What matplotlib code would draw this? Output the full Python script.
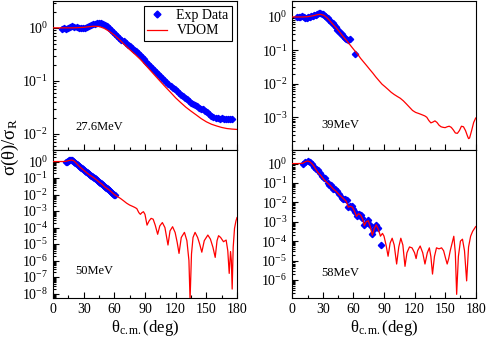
import matplotlib
matplotlib.use("Agg")
import matplotlib.pyplot as plt
from matplotlib.ticker import LogLocator, NullFormatter, MultipleLocator
from matplotlib.lines import Line2D

plt.rcParams['font.family'] = 'Liberation Serif'
plt.rcParams['mathtext.fontset'] = 'custom'
plt.rcParams['mathtext.rm'] = 'Liberation Serif'
plt.rcParams['mathtext.it'] = 'Liberation Serif:italic'
plt.rcParams['axes.unicode_minus'] = False

# ---- 27.6 MeV ----
exp27_ang = [9, 11, 13, 15, 17, 19, 21, 23, 25, 27, 29, 31, 33, 35, 37, 39, 41, 43, 45, 47,
             49, 51, 53, 55, 57, 59, 61, 63, 65, 67, 69, 71, 73, 75, 77, 79, 81, 83, 85, 87,
             89, 91, 93, 95, 97, 99, 101, 103, 105, 107, 109, 111, 113, 115, 117, 119, 121, 123, 125, 127,
             129, 131, 133, 135, 137, 139, 141, 143, 145, 147, 149, 151, 153, 155, 157, 159, 161, 163, 165, 167,
             169, 171, 173, 175]
exp27_val = [0.97, 0.99, 0.97, 0.98, 1.03, 1.06, 1.05, 1.02, 1.0, 0.99, 1.01, 1.0, 1.03, 1.07, 1.12, 1.16, 1.19, 1.21, 1.22, 1.21,
             1.18, 1.13, 1.06, 0.99, 0.92, 0.84, 0.77, 0.71, 0.65, 0.6, 0.56, 0.52, 0.48, 0.45, 0.42, 0.39, 0.36, 0.33, 0.305, 0.28,
             0.255, 0.232, 0.21, 0.19, 0.175, 0.16, 0.147, 0.135, 0.124, 0.113, 0.104, 0.096, 0.088, 0.081, 0.075, 0.069, 0.064, 0.059, 0.055, 0.051,
             0.048, 0.045, 0.042, 0.039, 0.037, 0.035, 0.033, 0.031, 0.03, 0.029, 0.027, 0.026, 0.024, 0.022, 0.021, 0.02, 0.0198, 0.0196, 0.02, 0.0195,
             0.0193, 0.0195, 0.0192, 0.019]
th27_ang = [0, 10, 20, 30, 35, 40, 45, 50, 55, 60, 65, 70, 75, 80, 85, 90, 95, 100, 105, 110,
            115, 120, 125, 130, 135, 140, 145, 150, 155, 160, 165, 170, 175, 180]
th27_val = [1.0, 1.0, 1.0, 1.02, 1.05, 1.07, 1.06, 0.98, 0.86, 0.73, 0.6, 0.48, 0.39, 0.32, 0.26, 0.205, 0.16, 0.125, 0.098, 0.077,
            0.061, 0.048, 0.039, 0.032, 0.027, 0.023, 0.0195, 0.017, 0.0153, 0.0142, 0.0133, 0.0127, 0.0124, 0.0122]

# ---- 39 MeV ----
exp39_ang = [5, 6.5, 8, 9.5, 11, 12.5, 14, 15.5, 17, 18.5, 20, 21.5, 23, 24.5, 26, 27.5, 29, 30.5, 32, 33.5,
             35, 36.5, 38, 39.5, 41, 42.5, 44, 45.5, 47, 48.5, 50, 51.5, 53, 54.5, 56.5, 61.5]
exp39_val = [1.0, 1.02, 0.98, 1.04, 1.0, 0.95, 0.93, 0.97, 1.0, 1.05, 1.08, 1.12, 1.18, 1.24, 1.28, 1.3, 1.25, 1.2, 1.1, 1.0,
             0.9, 0.8, 0.72, 0.65, 0.57, 0.5, 0.42, 0.38, 0.33, 0.3, 0.27, 0.24, 0.22, 0.21, 0.215, 0.078]
th39_ang = [0, 5, 10, 15, 20, 25, 28, 31, 34, 37, 40, 43, 46, 49, 52, 55, 58, 61, 64, 67,
            70, 73, 76, 79, 82, 85, 88, 91, 94, 97, 100, 103, 106, 109, 112, 115, 118, 121, 124, 127,
            130, 132, 134, 136, 138, 140, 142, 144, 146, 148, 150, 152, 154, 156, 158, 160, 162, 164, 166, 168,
            170, 172, 173, 174, 176, 178, 180]
th39_val = [1.0, 1.0, 1.0, 1.02, 1.08, 1.18, 1.2, 1.12, 0.95, 0.76, 0.6, 0.48, 0.37, 0.28, 0.22, 0.17, 0.13, 0.1, 0.078, 0.058,
            0.045, 0.035, 0.027, 0.021, 0.016, 0.0125, 0.0098, 0.0082, 0.0068, 0.0056, 0.0048, 0.0042, 0.0037, 0.0031, 0.0025, 0.002, 0.0016, 0.0014, 0.0013, 0.0012,
            0.0011, 0.001, 0.0008, 0.00068, 0.00072, 0.00078, 0.0007, 0.00058, 0.00052, 0.0005, 0.00049, 0.00052, 0.00054, 0.0005, 0.00042, 0.00034, 0.00033, 0.0004, 0.00054, 0.00052,
            0.0004, 0.00027, 0.00023, 0.00024, 0.0004, 0.0007, 0.00095]

# ---- 50 MeV ----
exp50_ang = [13, 14, 15, 16, 17, 18, 19, 20, 21, 22, 23, 24, 25, 26, 27, 28, 29, 30, 31, 32,
             33, 34, 35, 36, 37, 38, 39, 40, 41, 42, 43, 44, 45, 46, 47, 48, 49, 50, 51, 52,
             53, 54, 55, 56, 57, 58, 59, 60, 61]
exp50_val = [0.95, 1.0, 1.12, 1.2, 1.26, 1.26, 1.23, 1.15, 1.0, 0.87, 0.76, 0.65, 0.56, 0.49, 0.43, 0.38, 0.34, 0.3, 0.26, 0.24,
             0.22, 0.2, 0.174, 0.151, 0.135, 0.126, 0.117, 0.107, 0.095, 0.083, 0.072, 0.063, 0.058, 0.052, 0.048, 0.043, 0.037, 0.032, 0.0275, 0.025,
             0.0234, 0.0219, 0.02, 0.0174, 0.0148, 0.0126, 0.011, 0.01, 0.0091]
th50_ang = [0, 5, 10, 13, 16, 18, 20, 22, 24, 27, 30, 33, 36, 39, 42, 45, 48, 51, 54, 57,
            60, 63, 66, 69, 72, 75, 78, 80, 82, 84, 85.5, 87, 88.5, 90, 92, 94, 96, 98, 100, 102.4,
            104.5, 107, 109.5, 112.5, 114.5, 117, 119.5, 121.5, 123.3, 125.5, 128.6, 131, 133, 134.1, 135.5, 137, 139, 141.5, 143.5, 145.6,
            148, 151.5, 154, 156.5, 158.7, 160.5, 162, 164, 166.8, 169.4, 171, 172.4, 173.7, 174.5, 175.3, 176.3, 177.6, 179, 180]
th50_val = [1.0, 1.0, 1.0, 1.05, 1.17, 1.23, 1.15, 0.89, 0.65, 0.43, 0.3, 0.21, 0.15, 0.115, 0.083, 0.058, 0.042, 0.028, 0.021, 0.0148,
            0.01, 0.0076, 0.0058, 0.0042, 0.003, 0.0023, 0.0019, 0.00166, 0.0014, 0.0008, 0.00063, 0.0008, 0.00091, 0.00063, 0.00014, 0.00025, 0.00036, 0.00032, 0.00014, 3.9e-5,
            1.26e-4, 2.0e-4, 1.0e-4, 8.7e-6, 6.3e-5, 1.12e-4, 5.0e-5, 1.26e-5, 2.7e-6, 2.5e-5, 5.1e-5, 1.6e-5, 1.0e-6, 4.0e-9, 2.5e-6, 2.5e-5, 5.1e-5, 2.5e-5, 1.0e-5, 3.2e-6,
            1.6e-5, 3.5e-5, 2.0e-5, 6.3e-6, 1.55e-6, 1.6e-5, 3.2e-5, 2.5e-5, 1.38e-5, 1.74e-5, 4.0e-6, 1.66e-7, 3.5e-6, 1.0e-6, 1.86e-8, 6.3e-6, 8.9e-5, 2.5e-4, 4.0e-4]

# ---- 58 MeV ----
exp58_ang = [10.8, 12.5, 15.1, 17.4, 19.7, 21.6, 23.3, 24.9, 27.2, 28.8, 30.8, 32.1, 34.7, 36.0, 38.0, 40.3, 41.9, 43.5, 45.8, 48.4,
             50.1, 51.7, 53.4, 55.0, 56.6, 58.3, 59.9, 61.5, 63.2, 65.5, 67.4, 68.7, 70.7, 72.3, 73.9, 76.3, 78.5, 80.5, 82.1, 84.4,
             87.0]
exp58_val = [0.93, 1.15, 1.35, 1.15, 0.91, 0.66, 0.51, 0.46, 0.31, 0.23, 0.19, 0.17, 0.1, 0.083, 0.076, 0.051, 0.046, 0.039, 0.028, 0.0174,
             0.0155, 0.0155, 0.0129, 0.0055, 0.0063, 0.0065, 0.0047, 0.0032, 0.0019, 0.0026, 0.0021, 0.00155, 0.00065, 0.0009, 0.00117, 0.00065, 0.00024, 0.00043, 0.00065, 0.00047,
             6.6e-5]
th58_ang = [0, 5, 10, 13, 15, 17, 20, 22, 25, 28, 31, 34, 37, 40, 43, 46, 49, 51, 53, 55,
            57, 59, 61, 63, 65, 67, 69, 70.7, 72.5, 74.5, 76.5, 78.5, 80.5, 82.3, 84.5, 86.5, 88.5, 90, 92, 94,
            96, 98, 100, 102.4, 104.5, 106.5, 108.5, 110.6, 112.5, 115, 117.5, 120, 121.5, 123, 125.5, 128, 130.2, 132.5, 134.5, 136,
            137.6, 139.5, 141.5, 144, 146.5, 148.5, 150.5, 152, 153.5, 155, 158.5, 160, 161.3, 163, 165, 167, 169, 171.1, 173, 175,
            177, 180]
th58_val = [1.0, 1.0, 1.02, 1.26, 1.35, 1.26, 0.89, 0.63, 0.35, 0.24, 0.15, 0.105, 0.076, 0.05, 0.037, 0.025, 0.0178, 0.0141, 0.0112, 0.0056,
            0.0063, 0.0056, 0.0035, 0.0019, 0.0026, 0.0022, 0.0014, 0.00063, 0.001, 0.00112, 0.00056, 0.0002, 0.00045, 0.0007, 0.0004, 0.00018, 0.00025, 0.00018, 6.3e-5, 1.66e-5,
            7.9e-5, 1.41e-4, 6.3e-5, 6.6e-6, 5.0e-5, 1.41e-4, 6.3e-5, 5.0e-6, 2.5e-5, 5.0e-5, 4.5e-5, 2.5e-5, 1.26e-5, 3.2e-5, 5.6e-5, 2.5e-5, 6.6e-6, 2.5e-5, 4.5e-5, 1.6e-5,
            2.0e-6, 1.6e-5, 4.5e-5, 4.0e-5, 4.5e-5, 3.2e-5, 1.26e-5, 6.6e-6, 1.26e-5, 3.2e-5, 1.78e-4, 2.5e-5, 1.8e-7, 1.6e-5, 1.0e-4, 1.26e-4, 3.2e-5, 8.9e-7, 5.0e-5, 1.78e-4,
            3.2e-4, 5.6e-4]

labels = ['27.6MeV', '39MeV', '50MeV', '58MeV']
ylims = [(5e-3, 3.2), (1.05e-4, 3.0), (5e-9, 5.0), (1.1e-7, 5.0)]
label_pos = [(0.12, 0.155), (0.16, 0.168), (0.12, 0.183), (0.16, 0.172)]

fig = plt.figure(figsize=(4.88, 3.38), dpi=100)
rects = [(0.1086, 0.5562, 0.377, 0.4408), (0.599, 0.5562, 0.3758, 0.4408),
         (0.1086, 0.1169, 0.377, 0.4393), (0.599, 0.1169, 0.3758, 0.4393)]
exps = [(exp27_ang, exp27_val), (exp39_ang, exp39_val), (exp50_ang, exp50_val), (exp58_ang, exp58_val)]
ths = [(th27_ang, th27_val), (th39_ang, th39_val), (th50_ang, th50_val), (th58_ang, th58_val)]

for i in range(4):
    ax = fig.add_axes(rects[i])
    ax.plot(exps[i][0], exps[i][1], ls='none', marker='D', ms=3.2, color='#0000ff', zorder=2)
    ax.plot(ths[i][0], ths[i][1], color='#ff0000', lw=0.9, zorder=3)
    ax.set_yscale('log')
    ax.set_xlim(0, 180)
    ax.set_ylim(*ylims[i])
    ax.xaxis.set_major_locator(MultipleLocator(30))
    ax.xaxis.set_minor_locator(MultipleLocator(15))
    ax.yaxis.set_major_locator(LogLocator(base=10, numticks=30))
    ax.yaxis.set_minor_locator(LogLocator(base=10, subs=(2, 3, 4, 5, 6, 7, 8, 9), numticks=30))
    ax.yaxis.set_minor_formatter(NullFormatter())
    ax.tick_params(which='both', direction='in', top=False, right=False, labelsize=10, width=0.8)
    ax.tick_params(which='major', length=4)
    ax.tick_params(which='minor', length=2)
    for s in ax.spines.values():
        s.set_linewidth(0.8)
    ax.text(label_pos[i][0], label_pos[i][1], labels[i], transform=ax.transAxes,
            fontsize=9, va='center', ha='left')
    if i < 2:
        ax.tick_params(labelbottom=False)
    else:
        ax.set_xlabel('θ$_\\mathrm{c.m.}$(deg)', fontsize=12, labelpad=1)
    if i == 0:
        hs = [Line2D([], [], ls='none', marker='D', ms=3.5, color='#0000ff'),
              Line2D([], [], color='#ff0000', lw=0.9)]
        leg = ax.legend(hs, ['Exp Data', 'VDOM'], loc='upper right', fontsize=10,
                        fancybox=False, edgecolor='black', framealpha=1,
                        borderaxespad=0.35, handlelength=1.4, handletextpad=0.7,
                        borderpad=0.25, labelspacing=0.15)
        leg.get_frame().set_linewidth(0.8)

fig.text(0.022, 0.565, 'σ(θ)/σ$_\\mathrm{R}$', rotation=90, fontsize=13.5, ha='center', va='center')

fig.savefig('out.png', dpi=100)
